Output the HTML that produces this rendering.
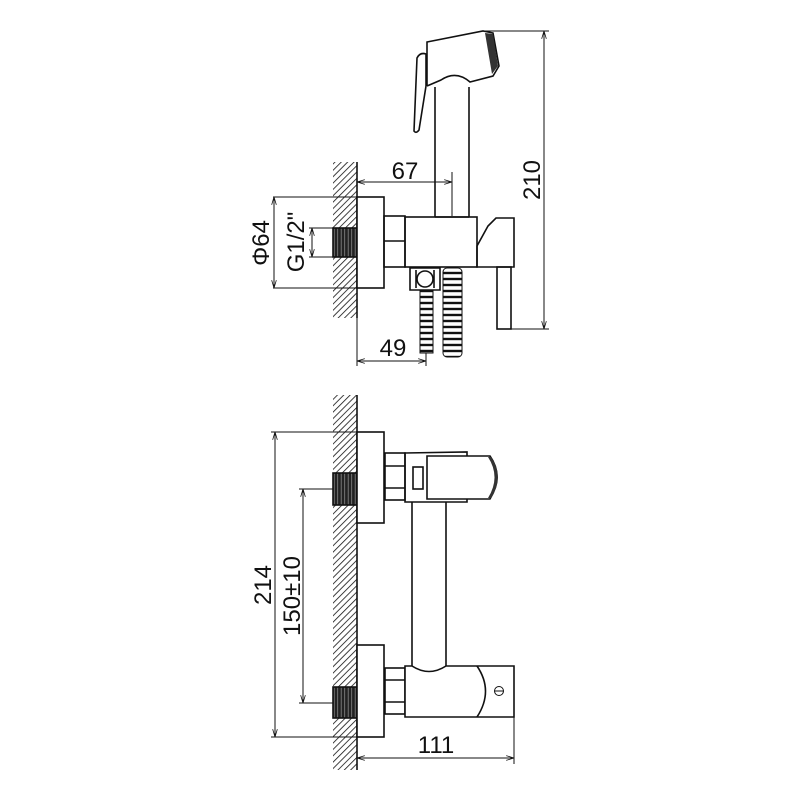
<!DOCTYPE html>
<html><head><style>html,body{margin:0;padding:0;background:#fff}svg{display:block}</style></head><body>
<svg width="800" height="800" viewBox="0 0 800 800" xmlns="http://www.w3.org/2000/svg">
<defs>
<pattern id="h" patternUnits="userSpaceOnUse" width="4.5" height="4.5" patternTransform="rotate(45)">
<line x1="0" y1="0" x2="0" y2="5" stroke="#111" stroke-width="1.6"/>
</pattern>
<pattern id="t" patternUnits="userSpaceOnUse" width="3.5" height="10">
<rect width="3.5" height="10" fill="#222"/><line x1="1.7" y1="0" x2="1.7" y2="10" stroke="#888" stroke-width="0.8"/>
</pattern>
<pattern id="hose" patternUnits="userSpaceOnUse" width="10" height="6">
<rect width="10" height="6" fill="#fff"/><line x1="0" y1="3" x2="10" y2="3" stroke="#111" stroke-width="2.4"/>
</pattern>
<marker id="a" viewBox="0 0 10 6" refX="10" refY="3" markerWidth="8" markerHeight="5" orient="auto-start-reverse"><path d="M0,0L10,3L0,6" fill="none" stroke="#111" stroke-width="1"/></marker>
</defs>
<g fill="none" stroke="#111" stroke-width="1.6" font-family="Liberation Sans, sans-serif">
<!-- TOP VIEW -->
<rect x="333" y="162" width="24" height="156" fill="url(#h)" stroke="none"/>
<line x1="357" y1="162" x2="357" y2="318"/>
<rect x="333" y="228" width="24" height="29" fill="url(#t)" stroke="#111"/>
<rect x="357" y="197" width="27" height="91" fill="#fff"/>
<rect x="384" y="216" width="21" height="51"/>
<line x1="384" y1="241" x2="405" y2="241"/>
<rect x="405" y="217" width="72" height="50"/>
<path d="M477,267 L477,246 L488,226 L496,218 L514,218 L514,267 Z"/>
<rect x="497" y="267" width="14" height="62"/>
<path d="M435,217 L435,87 M469,87 L469,217 M435,217 L469,217"/>
<path d="M427,86 L427,42 L483,31 L493,33 L499,66 L493,76 L470,82 Q456,70 441,80 L427,86"/>
<path d="M485,33 L493,34 L498,66 L492,74 Z" fill="#333" stroke="none"/>
<path d="M414,131 L417,58 Q420,52 426,54 L426,86 L419,130 Q416,134 414,131 Z" fill="#fff"/>
<path d="M410,268 L440,268 L440,290 L410,290 Z" fill="#fff"/>
<circle cx="425" cy="279" r="8"/>
<line x1="416" y1="270" x2="416" y2="288"/><line x1="434" y1="270" x2="434" y2="288"/>
<rect x="420" y="291" width="13" height="62" fill="url(#hose)" stroke="#111" stroke-width="1"/>
<rect x="443" y="268" width="19" height="89" rx="4" fill="url(#hose)" stroke="#111" stroke-width="1"/>
<line x1="273" y1="197" x2="357" y2="197" stroke-width="1"/>
<line x1="273" y1="288" x2="357" y2="288" stroke-width="1"/>
<line x1="274" y1="197" x2="274" y2="288" stroke-width="1" marker-start="url(#a)" marker-end="url(#a)"/>
<line x1="309" y1="228" x2="333" y2="228" stroke-width="1"/>
<line x1="309" y1="257" x2="333" y2="257" stroke-width="1"/>
<line x1="312" y1="228" x2="312" y2="257" stroke-width="1" marker-start="url(#a)" marker-end="url(#a)"/>
<line x1="357" y1="182" x2="452" y2="182" stroke-width="1" marker-start="url(#a)" marker-end="url(#a)"/>
<line x1="452" y1="172" x2="452" y2="216" stroke-width="1"/>
<line x1="483" y1="31" x2="549" y2="31" stroke-width="1"/>
<line x1="511" y1="329" x2="549" y2="329" stroke-width="1"/>
<line x1="544" y1="31" x2="544" y2="329" stroke-width="1" marker-start="url(#a)" marker-end="url(#a)"/>
<line x1="357" y1="318" x2="357" y2="366" stroke-width="1"/>
<line x1="426" y1="353" x2="426" y2="366" stroke-width="1"/>
<line x1="357" y1="361" x2="426" y2="361" stroke-width="1" marker-start="url(#a)" marker-end="url(#a)"/>
<!-- BOTTOM VIEW -->
<rect x="333" y="395" width="24" height="375" fill="url(#h)" stroke="none"/>
<line x1="357" y1="395" x2="357" y2="770"/>
<rect x="333" y="473" width="24" height="32" fill="url(#t)" stroke="#111"/>
<rect x="333" y="687" width="24" height="31" fill="url(#t)" stroke="#111"/>
<rect x="357" y="432" width="27" height="91" fill="#fff"/>
<rect x="357" y="645" width="27" height="92" fill="#fff"/>
<rect x="385" y="453" width="20" height="47"/>
<line x1="385" y1="466" x2="405" y2="466"/><line x1="385" y1="488" x2="405" y2="488"/>
<rect x="385" y="668" width="20" height="46"/>
<line x1="385" y1="680" x2="405" y2="680"/><line x1="385" y1="702" x2="405" y2="702"/>
<path d="M405,453 L467,452 L467,502 L405,502 Z"/>
<rect x="413" y="467" width="10" height="22"/>
<path d="M427,456 L490,456 Q504,476 490,499 L427,499 Z" fill="#fff"/>
<path d="M488,457 Q501,477 488,498 L491,498 Q505,477 491,457 Z" fill="#333" stroke="none"/>
<line x1="412" y1="502" x2="412" y2="668"/><line x1="446" y1="502" x2="446" y2="668"/>
<path d="M405,666 L412,666 Q429,677 446,666 L514,666 L514,717 L405,717 Z" fill="#fff"/>
<path d="M477,666 Q494,691 477,717" />
<circle cx="499" cy="691" r="4.5" stroke-width="1"/><line x1="494" y1="691" x2="504" y2="691" stroke-width="1"/>
<line x1="271" y1="432" x2="384" y2="432" stroke-width="1"/>
<line x1="271" y1="737" x2="384" y2="737" stroke-width="1"/>
<line x1="275" y1="432" x2="275" y2="737" stroke-width="1" marker-start="url(#a)" marker-end="url(#a)"/>
<line x1="299" y1="489" x2="333" y2="489" stroke-width="1"/>
<line x1="299" y1="703" x2="333" y2="703" stroke-width="1"/>
<line x1="303" y1="489" x2="303" y2="703" stroke-width="1" marker-start="url(#a)" marker-end="url(#a)"/>
<line x1="514" y1="717" x2="514" y2="764" stroke-width="1"/>
<line x1="357" y1="758" x2="514" y2="758" stroke-width="1" marker-start="url(#a)" marker-end="url(#a)"/>
</g>
<g font-family="Liberation Sans, sans-serif" font-size="24" fill="#111">
<text x="405" y="179" text-anchor="middle">67</text>
<text x="393" y="356" text-anchor="middle">49</text>
<text x="436" y="753" text-anchor="middle">111</text>
<text transform="translate(540,180) rotate(-90)" text-anchor="middle">210</text>
<text transform="translate(269,243) rotate(-90)" text-anchor="middle">Φ64</text>
<text transform="translate(304,242) rotate(-90)" text-anchor="middle">G1/2"</text>
<text transform="translate(271,585) rotate(-90)" text-anchor="middle">214</text>
<text transform="translate(300,596) rotate(-90)" text-anchor="middle">150±10</text>
</g>
</svg>
</body></html>
